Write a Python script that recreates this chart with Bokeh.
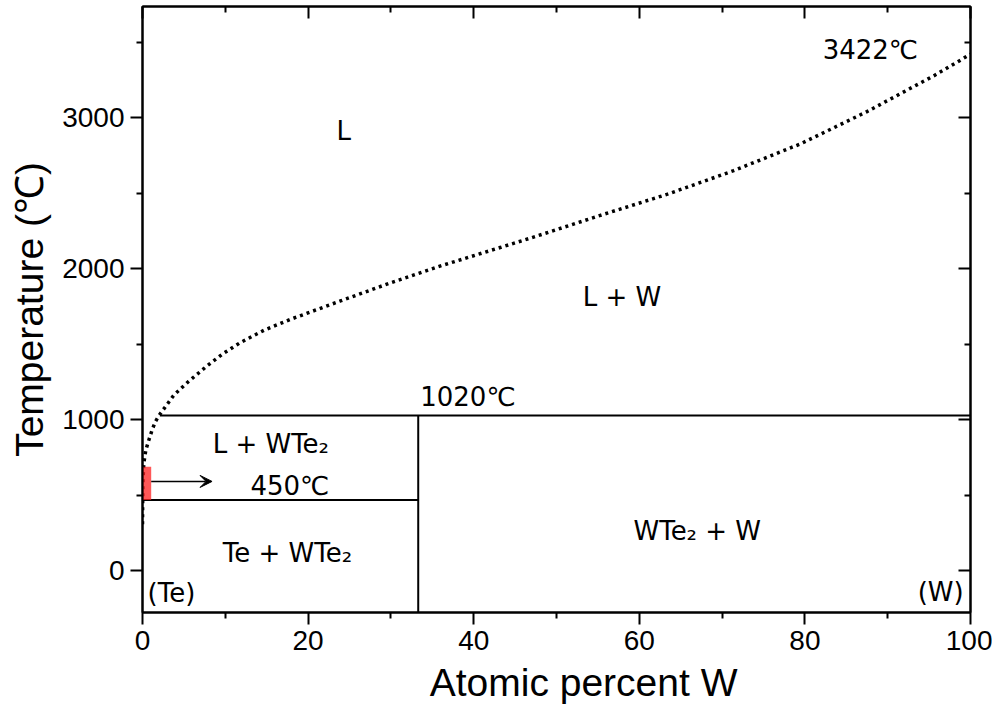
from bokeh.plotting import figure
from bokeh.models import (FixedTicker, LinearAxis, Range1d, Arrow, VeeHead, ColumnDataSource,
                          CustomLabelingPolicy)
from bokeh.core.properties import value
from bokeh.embed import file_html
from bokeh.resources import INLINE

# ---- data ----
liq_x = [0.0, 0.02, 0.06, 0.16, 0.4, 0.76, 1.2, 1.57, 2.0, 2.6, 3.8, 5.5, 7.8, 9.7, 11.8,
         14.7, 17.9, 23.9, 30.0, 36.0, 43.2, 46.9, 55.3, 63.4, 71.4, 79.5, 87.5, 95.6, 100.0]
liq_T = [310, 450, 600, 714, 800, 866, 940, 990, 1030, 1075, 1165, 1252, 1358, 1438, 1512,
         1595, 1667, 1788, 1909, 2020, 2142, 2205, 2355, 2495, 2651, 2829, 3042, 3280, 3422]

seg_x0 = [2.1, 0.0, 33.3]
seg_x1 = [100.0, 33.3, 33.3]
seg_y0 = [1030, 470, -275]
seg_y1 = [1030, 470, 1030]

hl_left, hl_right, hl_bottom, hl_top = [0.0], [1.05], [470], [690]
arrow_x = [1.05, 8.4]
arrow_T = [593, 593]

label_text = ["L", "L + W", "1020\u2103", "3422\u2103", "L + WTe\u2082", "450\u2103",
              "Te + WTe\u2082", "WTe\u2082 + W", "(Te)", "(W)"]
label_x = [24.3, 57.9, 39.3, 87.9, 15.5, 17.8, 17.5, 67.0, 3.5, 96.4]
label_y = [2911, 1811, 1149, 3447, 844, 566, 116, 262, -149, -142]

x_major = [0, 20, 40, 60, 80, 100]
x_minor = [10, 30, 50, 70, 90]
y_major = [0, 1000, 2000, 3000]
y_minor = [500, 1500, 2500, 3500]

x_lim = (0, 100)
y_lim = (-275, 3738)

# ---- figure ----
p = figure(width=992, height=715, x_range=Range1d(*x_lim), y_range=Range1d(*y_lim),
           output_backend="svg", toolbar_location=None,
           min_border_left=142, min_border_right=22, min_border_top=6, min_border_bottom=103)
p.grid.visible = False
p.outline_line_color = "black"
p.outline_line_width = 2
p.background_fill_color = "white"
p.border_fill_color = "white"

def style(ax, outward=True):
    ax.axis_line_color = "black"
    ax.axis_line_width = 2
    ax.major_tick_line_color = "black"
    ax.major_tick_line_width = 2
    ax.minor_tick_line_color = "black"
    ax.minor_tick_line_width = 2
    if outward:
        ax.major_tick_out, ax.major_tick_in = 12, 0
        ax.minor_tick_out, ax.minor_tick_in = 6, 0
    else:
        ax.major_tick_out, ax.major_tick_in = 0, 12
        ax.minor_tick_out, ax.minor_tick_in = 0, 6
    ax.major_label_text_font = "Liberation Sans"
    ax.major_label_text_font_size = "28px"
    ax.major_label_text_color = "black"
    ax.axis_label_text_font = "Liberation Sans"
    ax.axis_label_text_font_size = "39px"
    ax.axis_label_text_font_style = "normal"
    ax.axis_label_text_color = "black"

p.xaxis.ticker = FixedTicker(ticks=x_major, minor_ticks=x_minor)
p.yaxis.ticker = FixedTicker(ticks=y_major, minor_ticks=y_minor)
style(p.xaxis[0])
style(p.yaxis[0])
p.xaxis.axis_label = "\u00a0" * 5 + "Atomic percent W"
p.yaxis.axis_label = "Temperature (\u2103)"
p.xaxis.major_label_standoff = 6
p.yaxis.major_label_standoff = 6
p.xaxis.axis_label_standoff = 8
p.yaxis.axis_label_standoff = 8

# mirrored inward ticks on top and right, without labels
top = LinearAxis(ticker=FixedTicker(ticks=x_major, minor_ticks=x_minor))
right = LinearAxis(ticker=FixedTicker(ticks=y_major, minor_ticks=y_minor))
for ax in (top, right):
    style(ax, outward=False)
    ax.major_label_text_font_size = "0px"
    ax.major_label_standoff = 0
    ax.major_label_policy = CustomLabelingPolicy(code="return []")
p.add_layout(top, "above")
p.add_layout(right, "right")

# liquidus (dotted)
p.line(liq_x, liq_T, line_color="black", line_width=3.5, line_dash="3 4", line_cap="butt")

# phase boundaries
p.segment(x0=seg_x0, y0=seg_y0, x1=seg_x1, y1=seg_y1, line_color="black", line_width=2)

# highlighted region
p.quad(left=hl_left, right=hl_right, bottom=hl_bottom, top=hl_top,
       fill_color="#ff2020", fill_alpha=0.75, line_color=None)

# arrow
p.add_layout(Arrow(x_start=arrow_x[0], y_start=arrow_T[0], x_end=arrow_x[1], y_end=arrow_T[1],
                   line_color="black", line_width=1.5,
                   end=VeeHead(size=12, fill_color="black", line_color="black", line_width=1)))

# labels
src = ColumnDataSource(dict(x=label_x, y=label_y, t=label_text))
p.text(x="x", y="y", text="t", source=src, text_font=value("DejaVu Sans"),
       text_font_size="26px", text_align="center", text_baseline="middle", text_color="black")

open("out.html", "w").write(file_html(p, INLINE))
